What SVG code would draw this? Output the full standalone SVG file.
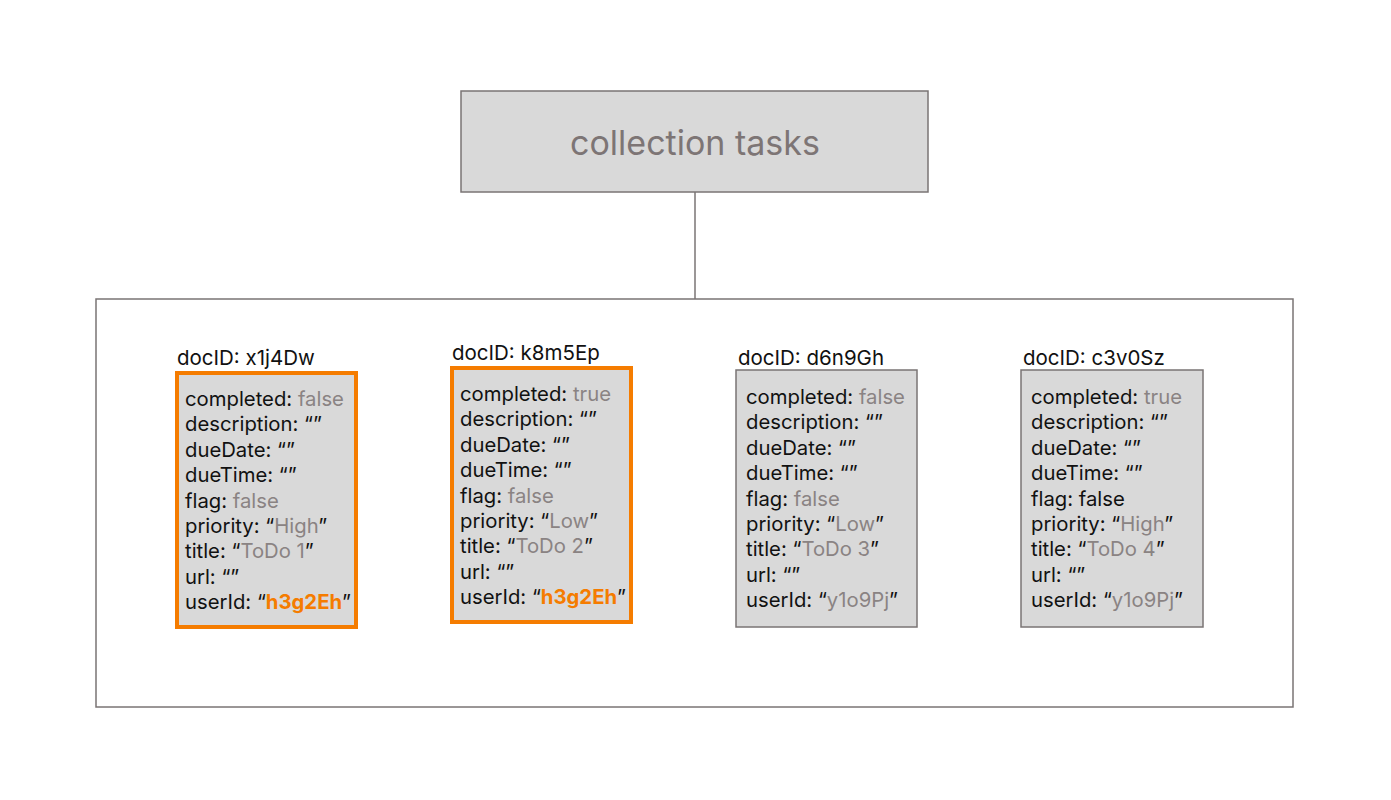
<svg xmlns="http://www.w3.org/2000/svg" width="1391" height="800" viewBox="0 0 1391 800">
<style>
text{font-family:Inter,"Noto Sans","Liberation Sans",sans-serif;}
.k{font-size:20.3px;fill:#111;}
.v{fill:#8a8383;}
.o{fill:#f57c00;font-weight:700;}
.id{font-size:20.5px;fill:#111;}
.card{fill:#d9d9d9;stroke:#7a7474;stroke-width:1.5;}
.hl{fill:#d9d9d9;stroke:#f57c00;stroke-width:4;}
.frame{fill:none;stroke:#7a7474;stroke-width:1.5;}
</style>
<rect width="1391" height="800" fill="#ffffff"/>
<g id="collection">
<rect x="461" y="91" width="467" height="101" fill="#d9d9d9" stroke="#7a7474" stroke-width="1.5"/>
<text x="695" y="155" text-anchor="middle" font-size="34" fill="#7d7575">collection tasks</text>
</g>
<g id="connectors">
<line x1="695" y1="192" x2="695" y2="299" stroke="#7a7474" stroke-width="1.5"/>
</g>
<g id="docs-frame">
<rect class="frame" x="96" y="299" width="1197" height="408"/>
</g>
<g id="doc-x1j4Dw">
<text class="id" x="177" y="365">docID: x1j4Dw</text>
<rect class="hl" x="177" y="373" width="179" height="254"/>
<text class="k" x="185" y="406">completed: <tspan class="v">false</tspan></text>
<text class="k" x="185" y="431.4">description: “”</text>
<text class="k" x="185" y="456.8">dueDate: “”</text>
<text class="k" x="185" y="482.2">dueTime: “”</text>
<text class="k" x="185" y="507.6">flag: <tspan class="v">false</tspan></text>
<text class="k" x="185" y="533">priority: “<tspan class="v">High</tspan>”</text>
<text class="k" x="185" y="558.4">title: “<tspan class="v">ToDo 1</tspan>”</text>
<text class="k" x="185" y="583.8">url: “”</text>
<text class="k" x="185" y="609.2">userId: “<tspan class="o">h3g2Eh</tspan>”</text>
</g>
<g id="doc-k8m5Ep">
<text class="id" x="452" y="360">docID: k8m5Ep</text>
<rect class="hl" x="452" y="368" width="179" height="254"/>
<text class="k" x="460" y="401">completed: <tspan class="v">true</tspan></text>
<text class="k" x="460" y="426.4">description: “”</text>
<text class="k" x="460" y="451.8">dueDate: “”</text>
<text class="k" x="460" y="477.2">dueTime: “”</text>
<text class="k" x="460" y="502.6">flag: <tspan class="v">false</tspan></text>
<text class="k" x="460" y="528">priority: “<tspan class="v">Low</tspan>”</text>
<text class="k" x="460" y="553.4">title: “<tspan class="v">ToDo 2</tspan>”</text>
<text class="k" x="460" y="578.8">url: “”</text>
<text class="k" x="460" y="604.2">userId: “<tspan class="o">h3g2Eh</tspan>”</text>
</g>
<g id="doc-d6n9Gh">
<text class="id" x="738" y="365">docID: d6n9Gh</text>
<rect class="card" x="736" y="370" width="181" height="257"/>
<text class="k" x="746" y="404">completed: <tspan class="v">false</tspan></text>
<text class="k" x="746" y="429.4">description: “”</text>
<text class="k" x="746" y="454.8">dueDate: “”</text>
<text class="k" x="746" y="480.2">dueTime: “”</text>
<text class="k" x="746" y="505.6">flag: <tspan class="v">false</tspan></text>
<text class="k" x="746" y="531">priority: “<tspan class="v">Low</tspan>”</text>
<text class="k" x="746" y="556.4">title: “<tspan class="v">ToDo 3</tspan>”</text>
<text class="k" x="746" y="581.8">url: “”</text>
<text class="k" x="746" y="607.2">userId: “<tspan class="v">y1o9Pj</tspan>”</text>
</g>
<g id="doc-c3v0Sz">
<text class="id" x="1023" y="365">docID: c3v0Sz</text>
<rect class="card" x="1021" y="370" width="182" height="257"/>
<text class="k" x="1031" y="404">completed: <tspan class="v">true</tspan></text>
<text class="k" x="1031" y="429.4">description: “”</text>
<text class="k" x="1031" y="454.8">dueDate: “”</text>
<text class="k" x="1031" y="480.2">dueTime: “”</text>
<text class="k" x="1031" y="505.6">flag: false</text>
<text class="k" x="1031" y="531">priority: “<tspan class="v">High</tspan>”</text>
<text class="k" x="1031" y="556.4">title: “<tspan class="v">ToDo 4</tspan>”</text>
<text class="k" x="1031" y="581.8">url: “”</text>
<text class="k" x="1031" y="607.2">userId: “<tspan class="v">y1o9Pj</tspan>”</text>
</g>
</svg>
